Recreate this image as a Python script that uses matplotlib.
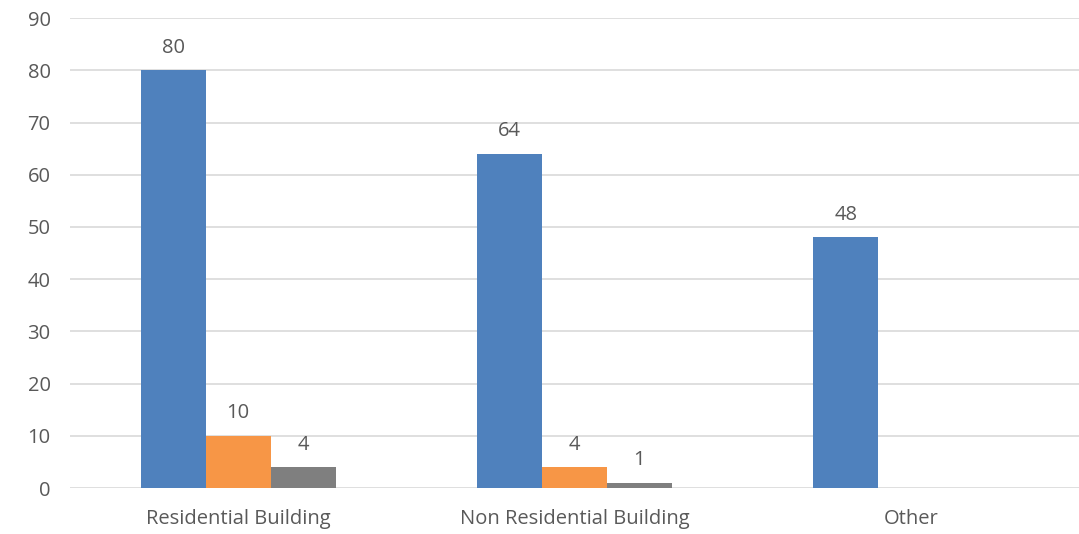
import matplotlib.pyplot as plt
import numpy as np

categories = ["Residential Building", "Non Residential Building", "Other"]
series_a = [80, 64, 48]
series_b = [10, 4, 0]
series_c = [4, 1, 0]
y_ticks = [0, 10, 20, 30, 40, 50, 60, 70, 80, 90]

colors = ["#4F81BD", "#F79646", "#7F7F7F"]
text_col = "#595959"

plt.rcParams['font.family'] = ['Open Sans', 'DejaVu Sans']

fig = plt.figure(figsize=(10.79, 5.34), dpi=100)
ax = fig.add_axes([0.0649, 0.0861, 0.935, 0.880])

x = np.arange(len(categories))
w = 0.193
for i, (vals, c) in enumerate(zip([series_a, series_b, series_c], colors)):
    pos = x + (i - 1) * w
    bars = ax.bar(pos, vals, width=w, color=c, zorder=3)
    for b, v in zip(bars, vals):
        if v == 0:
            continue
        ax.annotate(str(v), (b.get_x() + b.get_width() / 2, v),
                    xytext=(0, 9), textcoords="offset points",
                    ha="center", va="bottom", fontsize=14.5, color=text_col)

ax.set_xlim(-0.5, 2.5)
ax.set_ylim(0, 90)
ax.set_yticks(y_ticks)
ax.set_xticks(x)
ax.set_xticklabels(categories)
ax.grid(axis="y", color="#D9D9D9", linewidth=1.2, zorder=0)
ax.set_axisbelow(True)
for s in ax.spines.values():
    s.set_visible(False)
ax.tick_params(axis="both", length=0, labelsize=14.5, colors=text_col)
ax.tick_params(axis="y", pad=14)
ax.tick_params(axis="x", pad=15)

fig.savefig("out.png", dpi=100)
